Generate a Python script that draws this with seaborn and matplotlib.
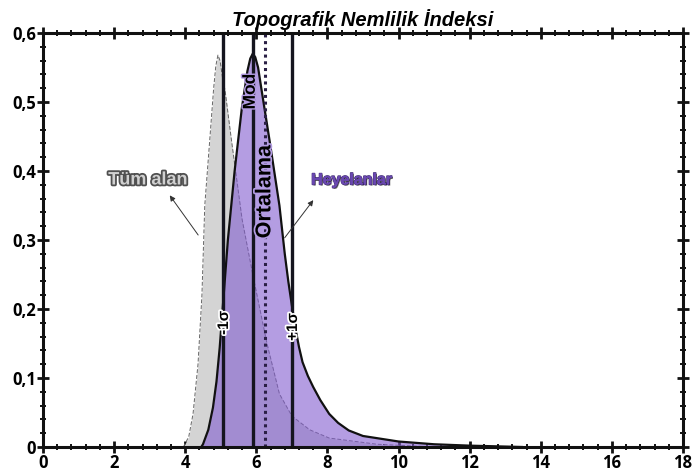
import numpy as np
import pandas as pd
import matplotlib
matplotlib.use("Agg")
import matplotlib.pyplot as plt
import matplotlib.patheffects as pe
from matplotlib.ticker import MultipleLocator, FuncFormatter
import seaborn as sns

# ---- data ----
tum_x = [3.95, 4.10, 4.22, 4.36, 4.47, 4.55, 4.69, 4.80, 4.86, 4.92, 4.98, 5.05, 5.12, 5.30,
         5.60, 5.90, 6.30, 6.65, 7.00, 7.50, 8.05, 9.40, 11.0]
tum_y = [0.0, 0.015, 0.048, 0.12, 0.22, 0.35, 0.445, 0.52, 0.552, 0.568, 0.56, 0.535, 0.517,
         0.445, 0.33, 0.25, 0.15, 0.077, 0.045, 0.025, 0.013, 0.004, 0.0]

hey_x = [4.45, 4.50, 4.65, 4.78, 4.88, 4.97, 5.20, 5.39, 5.59, 5.75, 5.83, 5.90, 5.97, 6.05,
         6.14, 6.37, 6.65, 6.80, 6.90, 7.00, 7.10, 7.20, 7.30, 7.45, 7.60, 7.80, 8.05, 8.30,
         8.60, 9.00, 10.0, 11.0, 12.0, 13.5]
hey_y = [0.0, 0.004, 0.025, 0.057, 0.095, 0.144, 0.30, 0.40, 0.49, 0.545, 0.563, 0.57, 0.565,
         0.55, 0.52, 0.445, 0.35, 0.28, 0.24, 0.205, 0.172, 0.145, 0.123, 0.103, 0.087, 0.068,
         0.048, 0.035, 0.024, 0.016, 0.008, 0.004, 0.002, 0.0]

stat_names = ["-1σ", "Mod", "Ortalama", "+1σ"]
stat_x = [5.06, 5.91, 6.24, 7.00]

title = "Topografik Nemlilik İndeksi"
x_ticks = [0, 2, 4, 6, 8, 10, 12, 14, 16, 18]
y_ticks = [0, 0.1, 0.2, 0.3, 0.4, 0.5, 0.6]

# ---- figure ----
sns.set_style("ticks")
plt.rcParams['font.family'] = ['Open Sans', 'DejaVu Sans']
plt.rcParams['text.color'] = 'black'
plt.rcParams['xtick.color'] = 'black'
plt.rcParams['ytick.color'] = 'black'

fig = plt.figure(figsize=(6.92, 4.75), dpi=100)
ax = fig.add_axes([0.0621, 0.0589, 0.9249, 0.8716])

df_t = pd.DataFrame({"x": tum_x, "y": tum_y})
df_h = pd.DataFrame({"x": hey_x, "y": hey_y})

ax.fill_between(df_t["x"], 0, df_t["y"], color="#d4d4d4", lw=0, zorder=1)
sns.lineplot(data=df_t, x="x", y="y", ax=ax, sort=False, color="#666666", lw=0.7,
             linestyle=(0, (4, 2)), zorder=2)
ax.fill_between(df_h["x"], 0, df_h["y"], color="#825ccf", alpha=0.6, lw=0, zorder=3)
sns.lineplot(data=df_h, x="x", y="y", ax=ax, sort=False, color="#111111", lw=1.6, zorder=4)

for name, xv in zip(stat_names, stat_x):
    if name == "Ortalama":
        ax.axvline(xv, color="#2a1f45", lw=2.2, linestyle=(0, (1, 1.2)), zorder=5)
    else:
        ax.axvline(xv, color="#15151f", lw=2.4, zorder=5)

white = [pe.withStroke(linewidth=2.5, foreground="white")]
ax.text(stat_x[1] - 0.08, 0.515, "Mod", rotation=90, ha="center", va="center",
        fontsize=12.5, fontweight="bold", family=["Liberation Sans"], color="black", zorder=7,
        path_effects=[pe.withStroke(linewidth=2.0, foreground="#b39ce3")])
ax.text(stat_x[2], 0.37, "Ortalama", rotation=90, ha="center", va="center",
        fontsize=15.5, fontweight="bold", family=["Liberation Sans"], color="black", zorder=7,
        path_effects=[pe.withStroke(linewidth=2.5, foreground="#b39ce3")])
ax.text(stat_x[0] + 0.03, 0.18, "-1σ", rotation=90, ha="center", va="center",
        fontsize=11, fontweight="bold", family=["Liberation Sans"], color="black", zorder=7,
        path_effects=white)
ax.text(stat_x[3] + 0.03, 0.174, "+1σ", rotation=90, ha="center", va="center",
        fontsize=11, fontweight="bold", family=["Liberation Sans"], color="black", zorder=7,
        path_effects=white)

ax.text(2.95, 0.387, "Tüm alan", ha="center", va="center", fontsize=13,
        fontweight="bold", family=["Liberation Sans"], color="#d0d0d0", zorder=7,
        path_effects=[pe.withStroke(linewidth=2.6, foreground="#505050")])
ax.text(8.69, 0.387, "Heyelanlar", ha="center", va="center", fontsize=11.5,
        fontweight="bold", family=["Liberation Sans"], color="#6a48b0", zorder=7,
        path_effects=[pe.withStroke(linewidth=1.0, foreground="#3a2470"),
                      pe.withSimplePatchShadow(offset=(0.8, -0.8), shadow_rgbFace="#222222", alpha=0.6),
                      pe.Normal()])

ax.annotate("", xy=(3.52, 0.368), xytext=(4.41, 0.304),
            arrowprops=dict(arrowstyle="-|>", color="#333333", lw=0.7, mutation_scale=8), zorder=7)
ax.annotate("", xy=(7.65, 0.361), xytext=(6.75, 0.30),
            arrowprops=dict(arrowstyle="-|>", color="#333333", lw=0.7, mutation_scale=8), zorder=7)

ax.set_xlim(0, 18)
ax.set_ylim(0, 0.6)
ax.set_xlabel("")
ax.set_ylabel("")
ax.set_xticks(x_ticks)
ax.set_yticks(y_ticks)
ax.xaxis.set_minor_locator(MultipleLocator(0.4))
ax.yaxis.set_minor_locator(MultipleLocator(0.02))
ax.yaxis.set_major_formatter(FuncFormatter(lambda v, p: "0" if abs(v) < 1e-9 else f"{v:.1f}".replace(".", ",")))

for s in ax.spines.values():
    s.set_visible(True)
    s.set_linewidth(2.2)
    s.set_color("#111111")
    s.set_zorder(8)

ax.tick_params(which="major", direction="inout", length=8, width=2, color="#111111",
               top=True, right=True, labelsize=12, pad=1, labelcolor="black")
ax.tick_params(which="minor", direction="inout", length=5, width=1.4, color="#111111",
               top=True, right=True)
for lab in ax.get_xticklabels() + ax.get_yticklabels():
    lab.set_fontweight("bold")

ax.set_title(title, fontsize=14.5, fontweight="bold", style="italic",
             family=["Liberation Sans"], pad=5, color="black")

fig.savefig("out.png", dpi=100)
